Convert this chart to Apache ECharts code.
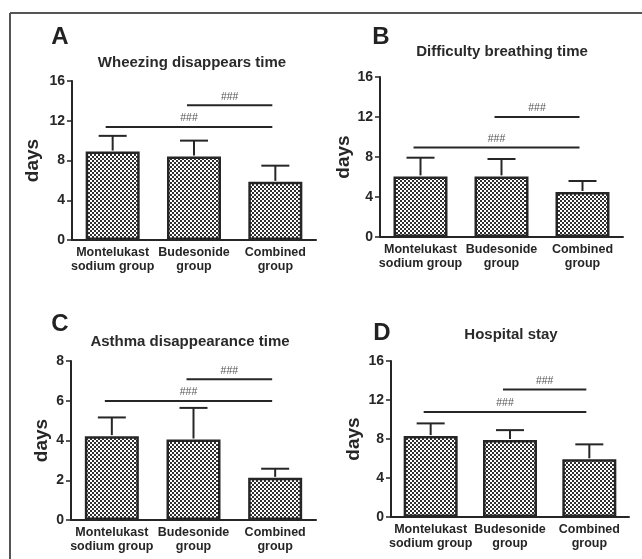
<!DOCTYPE html>
<html>
<head>
<meta charset="utf-8">
<script src="https://cdn.jsdelivr.net/npm/echarts@6/dist/echarts.min.js"></script>
<style>html,body{margin:0;padding:0;background:#fff;}#c{width:642px;height:559px;}</style>
</head>
<body>
<div id="c"></div>
<script>
// ---- data ----
const categories = ['Montelukast\nsodium group', 'Budesonide\ngroup', 'Combined\ngroup'];
const panelLetters = ['A', 'B', 'C', 'D'];
const panelTitles = ['Wheezing disappears time', 'Difficulty breathing time', 'Asthma disappearance time', 'Hospital stay'];
const yAxisName = 'days';
const wheezingMean = [8.9, 8.4, 5.85];
const wheezingSD = [1.58, 1.6, 1.63];
const breathingMean = [6.06, 6.06, 4.5];
const breathingSD = [1.87, 1.74, 1.1];
const asthmaMean = [4.22, 4.05, 2.12];
const asthmaSD = [0.94, 1.59, 0.46];
const hospitalMean = [8.3, 7.9, 5.92];
const hospitalSD = [1.3, 1.01, 1.53];
const yMax = [16, 16, 8, 16];
const yInterval = [4, 4, 2, 4];
// significance brackets: [fromCategory, toCategory, height]
const sigA = [[0, 2, 11.37], [1, 2, 13.55]];
const sigB = [[0, 2, 8.96], [1, 2, 12.0]];
const sigC = [[0, 2, 5.99], [1, 2, 7.08]];
const sigD = [[0, 2, 10.78], [1, 2, 13.07]];
const sigLabel = '###';

// ---- layout ----
const means = [wheezingMean, breathingMean, asthmaMean, hospitalMean];
const sds = [wheezingSD, breathingSD, asthmaSD, hospitalSD];
const sigs = [sigA, sigB, sigC, sigD];
const grids = [
  {left: 72, top: 81, width: 244, height: 159},
  {left: 380, top: 77, width: 243, height: 160},
  {left: 71, top: 361, width: 245, height: 159},
  {left: 391, top: 361, width: 238, height: 156}
];
const letterPos = [[60, 37], [381, 37], [60, 324], [382, 333]];
const titlePos = [[192, 63], [502, 52], [190, 342], [511, 335]];
const nameGaps = [30, 27, 20, 28];

// checker pattern
const pc = document.createElement('canvas');
pc.width = 4; pc.height = 4;
const pctx = pc.getContext('2d');
pctx.fillStyle = '#ffffff'; pctx.fillRect(0, 0, 4, 4);
pctx.fillStyle = '#303030';
pctx.fillRect(0, 0, 2, 2); pctx.fillRect(2, 2, 2, 2);

const FONT = 'Liberation Sans, Arial, sans-serif';
const DARK = '#262626';

const option = {
  animation: false,
  backgroundColor: '#ffffff',
  grid: grids.map(g => Object.assign({containLabel: false}, g)),
  xAxis: grids.map((g, i) => ({
    type: 'category', gridIndex: i, data: categories,
    axisLine: {lineStyle: {color: DARK, width: 2}},
    axisTick: {alignWithLabel: true, length: 5, lineStyle: {color: DARK, width: 1.5}},
    axisLabel: {interval: 0, color: DARK, fontFamily: FONT, fontWeight: 'bold', fontSize: 12.5, lineHeight: 14, margin: 6}
  })),
  yAxis: grids.map((g, i) => ({
    type: 'value', gridIndex: i, min: 0, max: yMax[i], interval: yInterval[i],
    name: yAxisName, nameLocation: 'middle', nameGap: nameGaps[i], nameRotate: 90,
    nameTextStyle: {color: DARK, fontFamily: FONT, fontWeight: 'bold', fontSize: 19},
    axisLine: {show: true, lineStyle: {color: DARK, width: 2}},
    axisTick: {show: true, length: 5, lineStyle: {color: DARK, width: 1.5}},
    splitLine: {show: false},
    axisLabel: {color: DARK, fontFamily: FONT, fontWeight: 'bold', fontSize: 14, margin: 7}
  })),
  series: [],
  graphic: []
};

for (let i = 0; i < 4; i++) {
  option.series.push({
    type: 'bar', xAxisIndex: i, yAxisIndex: i, data: means[i], barWidth: 54, z: 2,
    itemStyle: {color: {image: pc, repeat: 'repeat'}, borderColor: DARK, borderWidth: 2.5}
  });
  const m = means[i], s = sds[i];
  option.series.push({
    type: 'custom', xAxisIndex: i, yAxisIndex: i, z: 3,
    data: m.map((v, k) => [k, v, v + s[k]]),
    renderItem: function (params, api) {
      const p0 = api.coord([api.value(0), api.value(1)]);
      const p1 = api.coord([api.value(0), api.value(2)]);
      const hw = 14;
      return {type: 'group', children: [
        {type: 'line', shape: {x1: p0[0], y1: p0[1] - 1, x2: p1[0], y2: p1[1]}, style: {stroke: DARK, lineWidth: 2}},
        {type: 'line', shape: {x1: p1[0] - hw, y1: p1[1], x2: p1[0] + hw, y2: p1[1]}, style: {stroke: DARK, lineWidth: 2}}
      ]};
    }
  });
  option.series.push({
    type: 'custom', xAxisIndex: i, yAxisIndex: i, z: 3,
    data: sigs[i],
    renderItem: function (params, api) {
      const a = api.coord([api.value(0), api.value(2)]);
      const b = api.coord([api.value(1), api.value(2)]);
      const x1 = a[0] - 7, x2 = b[0] - 3;
      return {type: 'group', children: [
        {type: 'line', shape: {x1: x1, y1: a[1], x2: x2, y2: a[1]}, style: {stroke: DARK, lineWidth: 2}},
        {type: 'text', style: {x: (x1 + x2) / 2, y: a[1] - 3, text: sigLabel, textAlign: 'center', textVerticalAlign: 'bottom', fill: '#555', font: '10.5px ' + FONT}}
      ]};
    }
  });
  option.graphic.push({
    type: 'text', x: letterPos[i][0], y: letterPos[i][1],
    style: {text: panelLetters[i], fill: '#222', font: 'bold 24px ' + FONT, textAlign: 'center', textVerticalAlign: 'middle'}
  });
  option.graphic.push({
    type: 'text', x: titlePos[i][0], y: titlePos[i][1],
    style: {text: panelTitles[i], fill: '#2a2a2a', font: 'bold 15px ' + FONT, textAlign: 'center', textVerticalAlign: 'middle'}
  });
}
// frame lines
option.graphic.push({type: 'line', shape: {x1: 10, y1: 13, x2: 642, y2: 13}, style: {stroke: '#555', lineWidth: 2}});
option.graphic.push({type: 'line', shape: {x1: 10, y1: 13, x2: 10, y2: 559}, style: {stroke: '#555', lineWidth: 2}});

const chart = echarts.init(document.getElementById('c'), null, {renderer: 'canvas'});
chart.setOption(option);
</script>
</body>
</html>
